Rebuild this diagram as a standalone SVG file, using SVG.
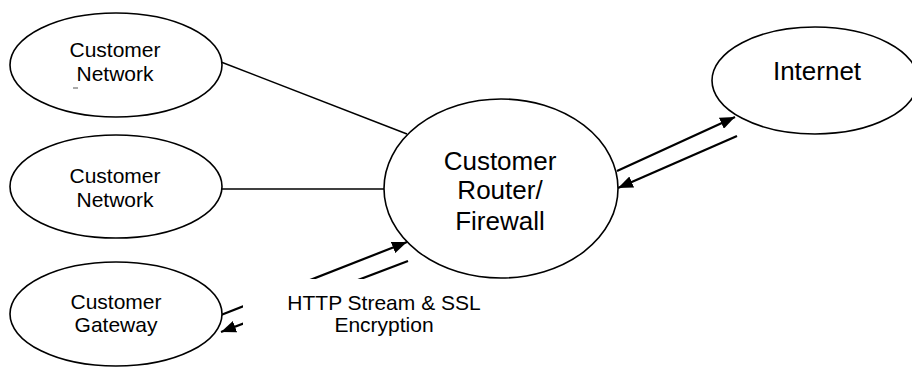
<svg xmlns="http://www.w3.org/2000/svg" width="912" height="367" viewBox="0 0 912 367">
<defs>
<marker id="ah" markerUnits="userSpaceOnUse" markerWidth="16" markerHeight="12" refX="15" refY="6" orient="auto">
<path d="M0,0 L15,6 L0,12 Z" fill="#000"/>
</marker>
<style>
.node ellipse{fill:#fff;stroke:#000;stroke-width:1.6}
.t{font-family:"Liberation Sans",Arial,sans-serif;fill:#000;text-anchor:middle}
.s{font-size:21px}
.b{font-size:26px}
.conn line{stroke:#000;stroke-width:1.5}
.conn .arr{stroke-width:2.2}
</style>
</defs>
<rect width="912" height="367" fill="#fff"/>
<g id="connectors" class="conn">
<line x1="221" y1="62" x2="407" y2="134"/>
<line x1="222" y1="189" x2="384" y2="189"/>
<line class="arr" x1="221" y1="315" x2="407" y2="242" marker-end="url(#ah)"/>
<line class="arr" x1="408" y1="261" x2="221" y2="332" marker-end="url(#ah)"/>
<line class="arr" x1="617" y1="171" x2="735" y2="117" marker-end="url(#ah)"/>
<line class="arr" x1="737" y1="136" x2="618" y2="188" marker-end="url(#ah)"/>
</g>
<g id="label-http">
<rect x="243" y="279" width="250" height="68" fill="#fff"/>
<text class="t s" x="384" y="310">HTTP Stream &amp; SSL</text>
<text class="t s" x="384" y="332">Encryption</text>
</g>
<g id="customer-network-1" class="node">
<ellipse cx="116" cy="65" rx="106" ry="52"/>
<text class="t s" x="115" y="57">Customer</text>
<text class="t s" x="115" y="81">Network</text>
<line x1="73" y1="88" x2="78" y2="88" stroke="#555" stroke-width="1"/>
</g>
<g id="customer-network-2" class="node">
<ellipse cx="116" cy="186.5" rx="106" ry="51.5"/>
<text class="t s" x="115" y="183">Customer</text>
<text class="t s" x="115" y="207">Network</text>
</g>
<g id="customer-gateway" class="node">
<ellipse cx="116" cy="314" rx="106" ry="52"/>
<text class="t s" x="116" y="309">Customer</text>
<text class="t s" x="116" y="332">Gateway</text>
</g>
<g id="router" class="node">
<ellipse cx="501" cy="188.5" rx="117" ry="89.5"/>
<text class="t b" x="500" y="170">Customer</text>
<text class="t b" x="500" y="199">Router/</text>
<text class="t b" x="500" y="230">Firewall</text>
</g>
<g id="internet" class="node">
<ellipse cx="815" cy="80.5" rx="103" ry="53.5"/>
<text class="t b" x="817" y="80">Internet</text>
</g>
</svg>
